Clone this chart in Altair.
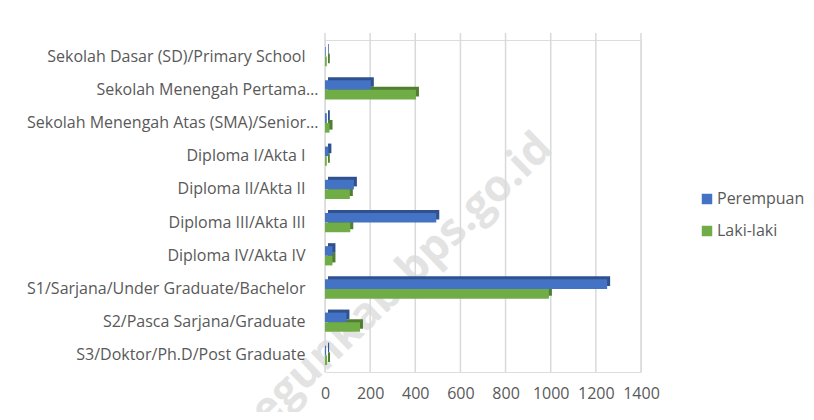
import altair as alt
import pandas as pd

categories = [
    "Sekolah Dasar (SD)/Primary School",
    "Sekolah Menengah Pertama…",
    "Sekolah Menengah Atas (SMA)/Senior…",
    "Diploma I/Akta I",
    "Diploma II/Akta II",
    "Diploma III/Akta III",
    "Diploma IV/Akta IV",
    "S1/Sarjana/Under Graduate/Bachelor",
    "S2/Pasca Sarjana/Graduate",
    "S3/Doktor/Ph.D/Post Graduate",
]
perempuan = [3, 203, 8, 15, 128, 493, 33, 1250, 95, 5]
laki_laki = [8, 403, 20, 8, 110, 112, 33, 992, 155, 9]
series = ["Perempuan", "Laki-laki"]
x_ticks = [0, 200, 400, 600, 800, 1000, 1200, 1400]

rows = []
for c, p, l in zip(categories, perempuan, laki_laki):
    rows.append({"Kategori": c, "Jenis": "Perempuan", "Nilai": p})
    rows.append({"Kategori": c, "Jenis": "Laki-laki", "Nilai": l})
df = pd.DataFrame(rows)
ticks_df = pd.DataFrame({"Nilai": x_ticks})

FONT = "Open Sans"
GREY = "#595959"
H = 332
P_IN, P_OUT = 0.42, 0.21
STEP = H / (len(categories) - P_IN + 2 * P_OUT)
BW = STEP * (1 - P_IN)

y_enc = alt.Y("Kategori:N", sort=categories, title=None,
              scale=alt.Scale(paddingInner=P_IN, paddingOuter=P_OUT),
              axis=alt.Axis(domain=False, ticks=False, zindex=2,
                            labelPadding={"condition": {"test": "indexof(datum.value, '…') >= 0", "value": 7},
                                          "value": 20},
                            labelLimit=320, labelFontSize=16,
                            labelColor=GREY, labelFont=FONT))
x_scale = alt.Scale(domain=[0, 1400], nice=False)
x_enc = alt.X("Nilai:Q", title=None, scale=x_scale,
              axis=alt.Axis(values=x_ticks, domain=False, ticks=False,
                            grid=False, zindex=2,
                            labelOverlap=False, labelFlush=False, format="d",
                            labelPadding=13, labelFontSize=16,
                            labelColor=GREY, labelFont=FONT))

base = alt.Chart(df)

shadow = base.mark_bar(xOffset=3).encode(
    x=x_enc, y=y_enc,
    yOffset=alt.YOffset("Jenis:N", sort=series,
                        scale=alt.Scale(paddingInner=0, paddingOuter=0, range=[-3, BW - 3])),
    color=alt.Color("Jenis:N", sort=series, legend=None,
                    scale=alt.Scale(domain=series, range=["#2f528f", "#507e32"])),
)

front = base.mark_bar().encode(
    x=x_enc, y=y_enc,
    yOffset=alt.YOffset("Jenis:N", sort=series,
                        scale=alt.Scale(paddingInner=0, paddingOuter=0, range=[0, BW])),
    color=alt.Color("Jenis:N", sort=series, title=None,
                    scale=alt.Scale(domain=series, range=["#4472c4", "#70ad47"]),
                    legend=alt.Legend(orient="none", legendX=374, legendY=151,
                                      symbolType="square", symbolSize=110,
                                      symbolStrokeWidth=0,
                                      labelFontSize=16, labelColor=GREY,
                                      labelFont=FONT, rowPadding=16,
                                      labelOffset=2)),
)

grid = alt.Chart(ticks_df).mark_rule(color="#d9d9d9", strokeWidth=1.5).encode(
    x=x_enc,
    y=alt.value(-7), y2=alt.value(H),
)

wm = alt.Chart(pd.DataFrame({"t": ["egunkab.bps.go.id"]})).mark_text(
    angle=316, fontSize=44, fontWeight="bold", font=FONT,
    color="#e3e3e3", align="center", baseline="middle",
).encode(text="t:N", x=alt.value(77), y=alt.value(240))

chart = alt.layer(wm, grid, shadow, front).resolve_scale(
    color="independent", yOffset="independent"
).properties(
    width=316, height=H,
    autosize=alt.AutoSizeParams(type="none"),
    padding={"left": 317, "top": 32, "right": 165, "bottom": 40},
).configure_view(stroke=None).configure(background="white")

chart.save("out.html", embed_options={"renderer": "svg", "actions": False})
